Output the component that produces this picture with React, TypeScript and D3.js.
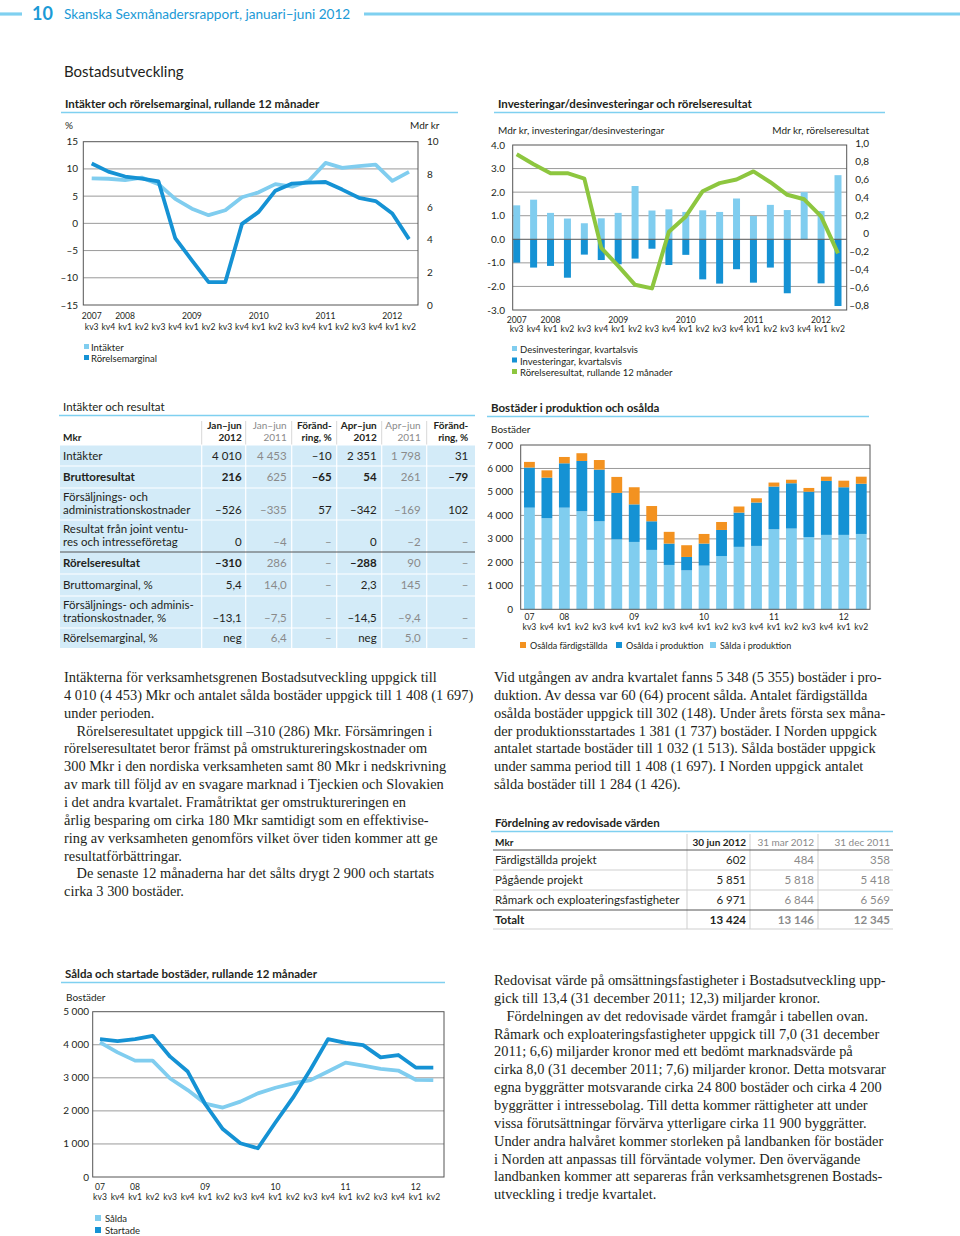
import React from 'react';
import * as d3 from 'd3';

// ---------- data ----------
const quarters = ['kv3','kv4','kv1','kv2','kv3','kv4','kv1','kv2','kv3','kv4','kv1','kv2','kv3','kv4','kv1','kv2','kv3','kv4','kv1','kv2'];
const yearsLong = ['2007','2008','2009','2010','2011','2012'];
const yearsShort = ['07','08','09','10','11','12'];

// Chart 1: Intäkter (Mdr kr, right axis) and Rörelsemarginal (%, left axis)
const rorelsemarginal = [11, 9.5, 8.6, 8.2, 7.7, -2.7, -6.8, -10.8, -10.8, -0.1, 2.1, 6.0, 7.3, 7.5, 7.6, 6.2, 4.7, 4.1, 1.8, -2.9];
const intakter = [7.76, 7.73, 7.65, 7.8, 7.4, 6.5, 5.9, 5.5, 5.8, 6.6, 6.9, 7.4, 7.25, 7.6, 8.7, 8.4, 8.5, 8.6, 7.6, 8.15];
const c1LeftTicks = [15, 10, 5, 0, -5, -10, -15];
const c1RightTicks = [10, 8, 6, 4, 2, 0];

// Chart 2: investeringar / desinvesteringar (Mdr kr) and rörelseresultat
const desinvesteringar = [1.44, 1.68, 1.12, 0.88, 0.68, 0.89, 1.12, 2.26, 1.22, 1.27, 1.16, 1.23, 1.16, 1.73, 0.99, 1.46, 1.24, 2.0, 1.2, 2.72];
const investeringar = [-0.99, -1.2, -1.13, -1.63, -0.65, -0.88, -1.06, -0.82, -0.4, -1.09, -0.66, -1.7, -1.88, -1.27, -1.84, -1.2, -2.29, 0, -1.87, -2.83];
const rorelseresultat = [0.88, 0.77, 0.67, 0.67, 0.61, -0.16, -0.36, -0.57, -0.61, 0.02, 0.19, 0.47, 0.56, 0.6, 0.69, 0.57, 0.43, 0.38, 0.19, -0.22];
const c2LeftTicks = [4, 3, 2, 1, 0, -1, -2, -3];
const c2RightTicks = [1.0, 0.8, 0.6, 0.4, 0.2, 0, -0.2, -0.4, -0.6, -0.8];

// Chart 3: Bostäder i produktion och osålda
const saldaIProd = [4330, 3880, 4330, 4180, 3750, 2980, 2870, 2530, 1890, 1660, 1860, 2270, 2660, 2700, 3410, 3440, 3080, 3170, 3170, 3210];
const osaldaIProd = [1710, 1730, 1890, 2140, 2200, 1980, 1600, 1220, 910, 570, 940, 1110, 1460, 1850, 1820, 1930, 1930, 2300, 2030, 2140];
const osaldaFard = [240, 310, 270, 330, 410, 680, 730, 650, 500, 500, 410, 340, 260, 180, 170, 150, 160, 180, 280, 300];
const c3Ticks = [7000, 6000, 5000, 4000, 3000, 2000, 1000, 0];

// Chart 4: Sålda och startade bostäder
const salda = [4070, 3770, 3520, 3520, 2980, 2630, 2220, 2100, 2280, 2530, 2700, 2830, 2930, 3190, 3460, 3370, 3270, 3220, 2940, 2930];
const startade = [4170, 4110, 4170, 4270, 3640, 3190, 2200, 1450, 1020, 870, 1650, 2400, 3250, 4170, 4060, 3990, 3620, 3690, 3310, 3310];
const c4Ticks = [5000, 4000, 3000, 2000, 1000, 0];

// Table 1
const t1Header = [['Jan–jun', '2012'], ['Jan–jun', '2011'], ['Föränd-', 'ring, %'], ['Apr–jun', '2012'], ['Apr–jun', '2011'], ['Föränd-', 'ring, %']];
const t1Labels = [['Intäkter'], ['Bruttoresultat'], ['Försäljnings- och', 'administrationskostnader'], ['Resultat från joint ventu-', 'res och intresseföretag'], ['Rörelseresultat'], ['Bruttomarginal, %'], ['Försäljnings- och adminis-', 'trationskostnader, %'], ['Rörelsemarginal, %']];
const t1Values = [
  ['4 010', '4 453', '–10', '2 351', '1 798', '31'],
  ['216', '625', '–65', '54', '261', '–79'],
  ['–526', '–335', '57', '–342', '–169', '102'],
  ['0', '–4', '–', '0', '–2', '–'],
  ['–310', '286', '–', '–288', '90', '–'],
  ['5,4', '14,0', '–', '2,3', '145', '–'],
  ['–13,1', '–7,5', '–', '–14,5', '–9,4', '–'],
  ['neg', '6,4', '–', 'neg', '5,0', '–'],
];
const t1BoldRows = [1, 4];

// Table 2
const t2Header = ['30 jun 2012', '31 mar 2012', '31 dec 2011'];
const t2Labels = ['Färdigställda projekt', 'Pågående projekt', 'Råmark och exploateringsfastigheter', 'Totalt'];
const t2Values = [['602', '484', '358'], ['5 851', '5 818', '5 418'], ['6 971', '6 844', '6 569'], ['13 424', '13 146', '12 345']];

// Body text
const leftText = [
  'Intäkterna för verksamhetsgrenen Bostadsutveckling uppgick till',
  '4 010 (4 453) Mkr och antalet sålda bostäder uppgick till 1 408 (1 697)',
  'under perioden.',
  '#Rörelseresultatet uppgick till –310 (286) Mkr. Försämringen i',
  'rörelseresultatet beror främst på omstruktureringskostnader om',
  '300 Mkr i den nordiska verksamheten samt 80 Mkr i nedskrivning',
  'av mark till följd av en svagare marknad i Tjeckien och Slovakien',
  'i det andra kvartalet. Framåtriktat ger omstruktureringen en',
  'årlig besparing om cirka 180 Mkr samtidigt som en effektivise-',
  'ring av verksamheten genomförs vilket över tiden kommer att ge',
  'resultatförbättringar.',
  '#De senaste 12 månaderna har det sålts drygt 2 900 och startats',
  'cirka 3 300 bostäder.',
];
const rightText1 = [
  'Vid utgången av andra kvartalet fanns 5 348 (5 355) bostäder i pro-',
  'duktion. Av dessa var 60 (64) procent sålda. Antalet färdigställda',
  'osålda bostäder uppgick till 302 (148). Under årets första sex måna-',
  'der produktionsstartades 1 381 (1 737) bostäder. I Norden uppgick',
  'antalet startade bostäder till 1 032 (1 513). Sålda bostäder uppgick',
  'under samma period till 1 408 (1 697). I Norden uppgick antalet',
  'sålda bostäder till 1 284 (1 426).',
];
const rightText2 = [
  'Redovisat värde på omsättningsfastigheter i Bostadsutveckling upp-',
  'gick till 13,4 (31 december 2011; 12,3) miljarder kronor.',
  '#Fördelningen av det redovisade värdet framgår i tabellen ovan.',
  'Råmark och exploateringsfastigheter uppgick till 7,0 (31 december',
  '2011; 6,6) miljarder kronor med ett bedömt marknadsvärde på',
  'cirka 8,0 (31 december 2011; 7,6) miljarder kronor. Detta motsvarar',
  'egna byggrätter motsvarande cirka 24 800 bostäder och cirka 4 200',
  'byggrätter i intressebolag. Till detta kommer rättigheter att under',
  'vissa förutsättningar förvärva ytterligare cirka 11 900 byggrätter.',
  'Under andra halvåret kommer storleken på landbanken för bostäder',
  'i Norden att anpassas till förväntade volymer. Den övervägande',
  'landbanken kommer att separeras från verksamhetsgrenen Bostads-',
  'utveckling i tredje kvartalet.',
];

// ---------- styles ----------
const SANS = "Lato, 'Liberation Sans', sans-serif";
const SERIF = "'Liberation Serif', 'Times New Roman', serif";
const C_DARK = '#1592d4';
const C_LIGHT = '#80cdef';
const C_GREEN = '#8dc63f';
const C_ORANGE = '#f39220';
const C_RULE = '#7fd0f0';
const C_GRID = '#9a9a9a';
const C_FRAME = '#555';
const C_TXT = '#231f20';
const C_GRAY = '#8a8a8a';
const C_TBG = '#d3ebf8';

const idx = quarters.map((_, i) => i);
const yearIdx = quarters.map((q, i) => (i === 0 || q === 'kv1' ? i : -1)).filter((i) => i >= 0);
const dash = (s: string) => s.replace('-', '–');

function Title({ x, y, x2, text, bold = true }: any) {
  return (
    <g>
      <text x={x} y={y} fontSize={11.5} fontWeight={bold ? 'bold' : 'normal'} fill={C_TXT}>{text}</text>
      <line x1={x - 4} x2={x2} y1={y + 4.5} y2={y + 4.5} stroke={C_RULE} strokeWidth={1.6} />
    </g>
  );
}

function XLabels({ x, yYear, yKv, years }: any) {
  return (
    <g fontSize={8.6} fill={C_TXT} textAnchor="middle">
      {yearIdx.map((i, k) => (
        <text key={'y' + i} x={x(i)} y={yYear}>{years[k]}</text>
      ))}
      {quarters.map((q, i) => (
        <text key={'q' + i} x={x(i)} y={yKv}>{q}</text>
      ))}
    </g>
  );
}

function Chart1() {
  const L = 83.3, R = 418, T = 141.7, B = 305;
  const x = d3.scalePoint<number>().domain(idx).range([91.7, 409]);
  const yL = d3.scaleLinear().domain([-15, 15]).range([B, T]);
  const yR = d3.scaleLinear().domain([0, 10]).range([B, T]);
  const lineL = d3.line<number>().x((_, i) => x(i)!).y((d) => yL(d));
  const lineR = d3.line<number>().x((_, i) => x(i)!).y((d) => yR(d));
  return (
    <g>
      <Title x={65} y={108} x2={458} text="Intäkter och rörelsemarginal, rullande 12 månader" />
      <text x={65} y={129} fontSize={10} fill={C_TXT}>%</text>
      <text x={410} y={129} fontSize={10} fill={C_TXT}>Mdr kr</text>
      {[10, 5, 0, -5, -10].map((v) => (
        <line key={v} x1={L} x2={R} y1={yL(v)} y2={yL(v)} stroke={C_GRID} strokeWidth={1} />
      ))}
      <rect x={L} y={T} width={R - L} height={B - T} fill="none" stroke={C_FRAME} strokeWidth={1} />
      <g fontSize={10} fill={C_TXT}>
        {c1LeftTicks.map((v) => (
          <text key={v} x={78} y={yL(v) + 3.5} textAnchor="end">{dash(String(v))}</text>
        ))}
        {c1RightTicks.map((v) => (
          <text key={v} x={427} y={yR(v) + 3.5}>{v}</text>
        ))}
      </g>
      <path d={lineR(intakter)!} fill="none" stroke={C_LIGHT} strokeWidth={3.8} strokeLinejoin="round" />
      <path d={lineL(rorelsemarginal)!} fill="none" stroke={C_DARK} strokeWidth={3.8} strokeLinejoin="round" />
      <XLabels x={x} yYear={319} yKv={330} years={yearsLong} />
      <g fontSize={9.5} fill={C_TXT}>
        <rect x={84} y={344} width={5} height={5} fill={C_LIGHT} />
        <text x={91} y={351}>Intäkter</text>
        <rect x={84} y={355} width={5} height={5} fill={C_DARK} />
        <text x={91} y={362}>Rörelsemarginal</text>
      </g>
    </g>
  );
}

function Chart2() {
  const L = 512.7, R = 846.7, T = 145, B = 310;
  const x = d3.scalePoint<number>().domain(idx).range([516.7, 838]);
  const yL = d3.scaleLinear().domain([-3, 4]).range([B, T]);
  const yR = d3.scaleLinear().domain([-0.8, 1.0]).range([305.5, 143.5]);
  const line = d3.line<number>().x((_, i) => x(i)!).y((d) => yR(d));
  const bw = 7;
  return (
    <g>
      <Title x={498} y={108} x2={885} text="Investeringar/desinvesteringar och rörelseresultat" />
      <text x={498} y={134} fontSize={10} fill={C_TXT}>Mdr kr, investeringar/desinvesteringar</text>
      <text x={869} y={134} fontSize={10} fill={C_TXT} textAnchor="end">Mdr kr, rörelseresultat</text>
      {[3, 2, 1, -1, -2].map((v) => (
        <line key={v} x1={L} x2={R} y1={yL(v)} y2={yL(v)} stroke={C_GRID} strokeWidth={1} />
      ))}
      {desinvesteringar.map((v, i) => (
        <rect key={'d' + i} x={x(i)! - bw / 2} y={yL(v)} width={bw} height={yL(0) - yL(v)} fill={C_LIGHT} />
      ))}
      {investeringar.map((v, i) => (
        <rect key={'i' + i} x={x(i)! - bw / 2} y={yL(0)} width={bw} height={yL(v) - yL(0)} fill={C_DARK} />
      ))}
      <line x1={L} x2={R} y1={yL(0)} y2={yL(0)} stroke={C_FRAME} strokeWidth={1} />
      <rect x={L} y={T} width={R - L} height={B - T} fill="none" stroke={C_FRAME} strokeWidth={1} />
      <path d={line(rorelseresultat)!} fill="none" stroke={C_GREEN} strokeWidth={4} strokeLinejoin="round" />
      <g fontSize={10} fill={C_TXT}>
        {c2LeftTicks.map((v) => (
          <text key={v} x={505} y={yL(v) + 3.5} textAnchor="end">{v.toFixed(1)}</text>
        ))}
        {c2RightTicks.map((v) => (
          <text key={v} x={869} y={yR(v) + 3.5} textAnchor="end">
            {v === 0 ? '0' : dash(v.toFixed(1).replace('.', ','))}
          </text>
        ))}
      </g>
      <XLabels x={x} yYear={323} yKv={332} years={yearsLong} />
      <g fontSize={9.5} fill={C_TXT}>
        <rect x={512} y={346} width={5} height={5} fill={C_LIGHT} />
        <text x={520} y={353}>Desinvesteringar, kvartalsvis</text>
        <rect x={512} y={357.5} width={5} height={5} fill={C_DARK} />
        <text x={520} y={364.5}>Investeringar, kvartalsvis</text>
        <rect x={512} y={369} width={5} height={5} fill={C_GREEN} />
        <text x={520} y={376}>Rörelseresultat, rullande 12 månader</text>
      </g>
    </g>
  );
}

function Chart3() {
  const L = 520.7, R = 870, T = 445, B = 609.3;
  const x = d3.scaleBand<number>().domain(idx).range([L, R]).paddingInner(0.38).paddingOuter(0.19);
  const y = d3.scaleLinear().domain([0, 7000]).range([B, T]);
  const rows = idx.map((i) => ({ sald: saldaIProd[i], prod: osaldaIProd[i], fard: osaldaFard[i] }));
  const series = d3.stack<any>().keys(['sald', 'prod', 'fard'])(rows);
  const colors = [C_LIGHT, C_DARK, C_ORANGE];
  const xc = (i: number) => x(i)! + x.bandwidth() / 2;
  return (
    <g>
      <Title x={491} y={412} x2={869} text="Bostäder i produktion och osålda" />
      <text x={491} y={433} fontSize={10} fill={C_TXT}>Bostäder</text>
      {[6000, 5000, 4000, 3000, 2000, 1000].map((v) => (
        <line key={v} x1={L} x2={R} y1={y(v)} y2={y(v)} stroke={C_GRID} strokeWidth={1} />
      ))}
      {series.map((s, k) => (
        <g key={k} fill={colors[k]}>
          {s.map((d, i) => (
            <rect key={i} x={x(i)} y={y(d[1])} width={x.bandwidth()} height={y(d[0]) - y(d[1])} />
          ))}
        </g>
      ))}
      <rect x={L} y={T} width={R - L} height={B - T} fill="none" stroke={C_FRAME} strokeWidth={1} />
      <g fontSize={10} fill={C_TXT}>
        {c3Ticks.map((v) => (
          <text key={v} x={513} y={y(v) + 3.5} textAnchor="end">{v === 0 ? '0' : d3.format(',')(v).replace(',', ' ')}</text>
        ))}
      </g>
      <XLabels x={xc} yYear={620} yKv={629.5} years={yearsShort} />
      <g fontSize={9} fill={C_TXT}>
        <rect x={520} y={642} width={6} height={6} fill={C_ORANGE} />
        <text x={530} y={649}>Osålda färdigställda</text>
        <rect x={616} y={642} width={6} height={6} fill={C_DARK} />
        <text x={626} y={649}>Osålda i produktion</text>
        <rect x={710} y={642} width={6} height={6} fill={C_LIGHT} />
        <text x={720} y={649}>Sålda i produktion</text>
      </g>
    </g>
  );
}

function Chart4() {
  const L = 92.7, R = 444, T = 1011.7, B = 1177;
  const x = d3.scalePoint<number>().domain(idx).range([100, 433.3]);
  const y = d3.scaleLinear().domain([0, 5000]).range([B, T]);
  const line = d3.line<number>().x((_, i) => x(i)!).y((d) => y(d));
  return (
    <g>
      <Title x={65} y={978} x2={445} text="Sålda och startade bostäder, rullande 12 månader" />
      <text x={66} y={1001} fontSize={10} fill={C_TXT}>Bostäder</text>
      {[4000, 3000, 2000, 1000].map((v) => (
        <line key={v} x1={L} x2={R} y1={y(v)} y2={y(v)} stroke={C_GRID} strokeWidth={1} />
      ))}
      <rect x={L} y={T} width={R - L} height={B - T} fill="none" stroke={C_FRAME} strokeWidth={1} />
      <g fontSize={10} fill={C_TXT}>
        {c4Ticks.map((v) => (
          <text key={v} x={89} y={y(v) + 3.5} textAnchor="end">{v === 0 ? '0' : d3.format(',')(v).replace(',', ' ')}</text>
        ))}
      </g>
      <path d={line(salda)!} fill="none" stroke={C_LIGHT} strokeWidth={3.8} strokeLinejoin="round" />
      <path d={line(startade)!} fill="none" stroke={C_DARK} strokeWidth={3.8} strokeLinejoin="round" />
      <XLabels x={x} yYear={1190} yKv={1200} years={yearsShort} />
      <g fontSize={9.5} fill={C_TXT}>
        <rect x={95} y={1215} width={6} height={6} fill={C_LIGHT} />
        <text x={105} y={1222}>Sålda</text>
        <rect x={95} y={1227} width={6} height={6} fill={C_DARK} />
        <text x={105} y={1234}>Startade</text>
      </g>
    </g>
  );
}

function Table1() {
  const rowY = [445, 466, 488, 520, 552, 574, 596, 628, 648];
  const colRight = [241.7, 286.7, 331.7, 376.7, 420.7, 468.3];
  const seps = [201.7, 245.7, 291.7, 336.7, 381.7, 426.7];
  const L = 60, R = 475;
  return (
    <g>
      <Title x={63} y={411} x2={475} text="Intäkter och resultat" bold={false} />
      <rect x={L} y={rowY[0]} width={R - L} height={rowY[8] - rowY[0]} fill={C_TBG} />
      {seps.map((s) => (
        <g key={s}>
          <line x1={s} x2={s} y1={421} y2={rowY[0]} stroke="#d8d8d8" strokeWidth={1} />
          <line x1={s} x2={s} y1={rowY[0]} y2={rowY[8]} stroke="#fff" strokeWidth={1.2} />
        </g>
      ))}
      {rowY.slice(1, 8).map((yy, k) => (
        <line key={yy} x1={L} x2={R} y1={yy} y2={yy} stroke={k === 3 ? '#555' : '#fff'} strokeWidth={k === 3 ? 1 : 1.2} />
      ))}
      <line x1={L} x2={R} y1={rowY[0]} y2={rowY[0]} stroke="#fff" strokeWidth={1} />
      <g fontSize={10} fill={C_TXT}>
        <text x={63} y={441} fontWeight="bold">Mkr</text>
        {t1Header.map((h, c) => (
          <g key={c} fill={c === 1 || c === 4 ? C_GRAY : C_TXT} fontWeight={c === 1 || c === 4 ? 'normal' : 'bold'} textAnchor="end">
            <text x={colRight[c]} y={429}>{h[0]}</text>
            <text x={colRight[c]} y={441}>{h[1]}</text>
          </g>
        ))}
      </g>
      <g fontSize={11.5}>
        {t1Labels.map((lab, r) => {
          const top = rowY[r], bot = rowY[r + 1];
          const bold = t1BoldRows.includes(r);
          const lastBase = lab.length === 1 ? (top + bot) / 2 + 4 : bot - 6;
          return (
            <g key={r}>
              {lab.map((t, k) => (
                <text key={k} x={63} y={lastBase - (lab.length - 1 - k) * 12.8} fill={C_TXT} fontWeight={bold ? 'bold' : 'normal'}>{t}</text>
              ))}
              {t1Values[r].map((v, c) => {
                const gray = c === 1 || c === 4 || v === '–';
                return (
                  <text key={c} x={colRight[c]} y={lastBase} textAnchor="end" fill={gray ? C_GRAY : C_TXT}
                    fontWeight={bold && !gray ? 'bold' : 'normal'}>{v}</text>
                );
              })}
            </g>
          );
        })}
      </g>
    </g>
  );
}

function Table2() {
  const L = 493, R = 893;
  const rowY = [850, 870, 890, 910, 929];
  const colRight = [746, 814, 890];
  const seps = [687, 750, 818];
  return (
    <g>
      <Title x={495} y={827} x2={893} text="Fördelning av redovisade värden" />
      {seps.map((s) => (
        <line key={s} x1={s} x2={s} y1={834} y2={rowY[4]} stroke="#cfcfcf" strokeWidth={1} />
      ))}
      <line x1={L} x2={R} y1={rowY[0]} y2={rowY[0]} stroke="#555" strokeWidth={1} />
      <line x1={L} x2={R} y1={rowY[1]} y2={rowY[1]} stroke="#cfcfcf" strokeWidth={1} />
      <line x1={L} x2={R} y1={rowY[2]} y2={rowY[2]} stroke="#cfcfcf" strokeWidth={1} />
      <line x1={L} x2={R} y1={rowY[3]} y2={rowY[3]} stroke="#555" strokeWidth={1} />
      <line x1={L} x2={R} y1={rowY[4]} y2={rowY[4]} stroke="#cfcfcf" strokeWidth={1} />
      <g fontSize={10}>
        <text x={495} y={845.5} fontWeight="bold" fill={C_TXT}>Mkr</text>
        {t2Header.map((h, c) => (
          <text key={c} x={colRight[c]} y={845.5} textAnchor="end" fill={c === 0 ? C_TXT : C_GRAY} fontWeight={c === 0 ? 'bold' : 'normal'}>{h}</text>
        ))}
      </g>
      <g fontSize={11.5}>
        {t2Labels.map((lab, r) => {
          const base = (rowY[r] + rowY[r + 1]) / 2 + 4;
          const bold = r === 3;
          return (
            <g key={r}>
              <text x={495} y={base} fill={C_TXT} fontWeight={bold ? 'bold' : 'normal'}>{lab}</text>
              {t2Values[r].map((v, c) => (
                <text key={c} x={colRight[c]} y={base} textAnchor="end" fill={c === 0 ? C_TXT : C_GRAY}
                  fontWeight={bold ? 'bold' : 'normal'}>{v}</text>
              ))}
            </g>
          );
        })}
      </g>
    </g>
  );
}

function Para({ x, y, lines }: any) {
  return (
    <g fontFamily={SERIF} fontSize={14.4} fill={C_TXT}>
      {lines.map((l: string, i: number) => {
        const indent = l.startsWith('#');
        return (
          <text key={i} x={x + (indent ? 12.5 : 0)} y={y + i * 17.85}>{indent ? l.slice(1) : l}</text>
        );
      })}
    </g>
  );
}

export default function App() {
  return (
    <svg width={960} height={1236} style={{ position: 'absolute', left: 0, top: 0, background: '#fff' }} fontFamily={SANS}>
      <rect x={0} y={0} width={960} height={1236} fill="#fff" />
      <line x1={0} x2={22} y1={14} y2={14} stroke={C_RULE} strokeWidth={3.2} />
      <text x={32} y={20} fontSize={18} fontWeight="bold" fill="#1b9ad6">10</text>
      <text x={64} y={19} fontSize={13.6} fill="#1b9ad6">Skanska Sexmånadersrapport, januari–juni 2012</text>
      <line x1={364} x2={960} y1={14} y2={14} stroke={C_RULE} strokeWidth={3.2} />
      <text x={64} y={77} fontSize={15} fill={C_TXT}>Bostadsutveckling</text>
      <Chart1 />
      <Chart2 />
      <Table1 />
      <Chart3 />
      <Table2 />
      <Chart4 />
      <Para x={64} y={682} lines={leftText} />
      <Para x={494} y={682} lines={rightText1} />
      <Para x={494} y={985} lines={rightText2} />
    </svg>
  );
}
